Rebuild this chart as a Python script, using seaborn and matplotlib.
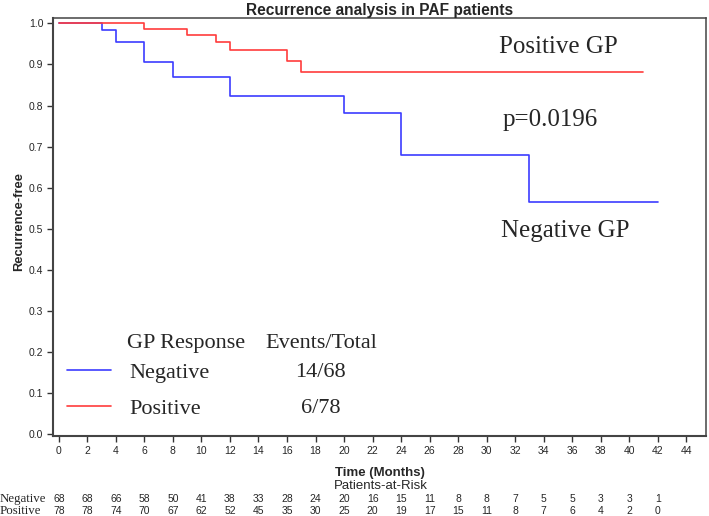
import pandas as pd
import matplotlib.pyplot as plt
import seaborn as sns
from matplotlib.lines import Line2D

# --- data ---
neg_times = [0, 3, 4, 6, 8, 12, 20, 24, 33, 42]
neg_surv = [1.0, 0.985, 0.955, 0.906, 0.869, 0.824, 0.782, 0.679, 0.566, 0.566]
pos_times = [0, 6, 9, 11, 12, 16, 17, 41]
pos_surv = [1.0, 0.986, 0.971, 0.954, 0.935, 0.908, 0.881, 0.881]

groups = ['Negative', 'Positive']
events = ['14/68', '6/78']
risk_times = list(range(0, 43, 2))
risk_neg = [68, 68, 66, 58, 50, 41, 38, 33, 28, 24, 20, 16, 15, 11, 8, 8, 7, 5, 5, 3, 3, 1]
risk_pos = [78, 78, 74, 70, 67, 62, 52, 45, 35, 30, 25, 20, 19, 17, 15, 11, 8, 7, 6, 4, 2, 0]

colors = {'Negative': '#3c3cff', 'Positive': '#ff3c3c'}

df = pd.concat([
    pd.DataFrame({'time': neg_times, 'surv': neg_surv, 'group': 'Negative'}),
    pd.DataFrame({'time': pos_times, 'surv': pos_surv, 'group': 'Positive'}),
])

sns.set_theme(style='white')
plt.rcParams['font.family'] = ['Liberation Sans', 'DejaVu Sans']
serif = ['Liberation Serif', 'DejaVu Serif']

fig = plt.figure(figsize=(7.09, 5.16), dpi=100)
ax = fig.add_axes([0.075, 0.155, 0.921, 0.81])

sns.lineplot(data=df, x='time', y='surv', hue='group', palette=colors,
             drawstyle='steps-post', linewidth=1.2, legend=False, ax=ax)

ax.set_xlim(-0.4, 45.4)
ax.set_ylim(-0.005, 1.013)
ax.set_xticks(range(0, 45, 2))
ax.set_yticks([i / 10 for i in range(11)])
ax.set_yticklabels([f'{i / 10:.1f}' for i in range(11)])
ax.tick_params(axis='both', direction='out', length=4, width=1, labelsize=7.5,
               color='#333333', pad=3, bottom=True, left=True)
for s in ax.spines.values():
    s.set_color('#444444')
    s.set_linewidth(1.1)
ax.spines['left'].set_linewidth(1.5)
ax.spines['bottom'].set_linewidth(1.5)

ax.set_title('Recurrence analysis in PAF patients', fontsize=11.2, fontweight='bold', pad=2)
ax.set_ylabel('Recurrence-free', fontsize=9.3, fontweight='bold', labelpad=3)
ax.yaxis.label.set_y(0.514)
ax.set_xlabel('Time (Months)', fontsize=9.5, fontweight='bold', labelpad=8)

# curve annotations
ax.text(30.9, 0.942, 'Positive GP', family=serif, fontsize=18, va='center')
ax.text(31.1, 0.764, 'p=0.0196', family=serif, fontsize=18, va='center')
ax.text(31.0, 0.494, 'Negative GP', family=serif, fontsize=18, va='center')

# legend
handles = [Line2D([], [], color=colors[g], linewidth=1.2) for g in groups]
ax.legend(handles, groups, loc='center left', bbox_to_anchor=(0.021, 0.108),
          frameon=False, borderpad=0, borderaxespad=0, handlelength=2.0,
          handletextpad=0.8, labelspacing=0.7, prop={'family': serif, 'size': 16})
ax.text(0.113, 0.222, 'GP Response', transform=ax.transAxes, family=serif,
        fontsize=16, va='center')
ax.text(0.325, 0.222, 'Events/Total', transform=ax.transAxes, family=serif,
        fontsize=16, va='center')
for ev, yy in zip(events, [0.153, 0.067]):
    ax.text(0.41, yy, ev, transform=ax.transAxes, family=serif, fontsize=16,
            va='center', ha='center')

# patients-at-risk table
trans = ax.get_xaxis_transform()
ax.text(22.6, -0.12, 'Patients-at-Risk', transform=trans, fontsize=9.5,
        ha='center', va='center')
for row, yy in zip([risk_neg, risk_pos], [-0.151, -0.179]):
    for t, n in zip(risk_times, row):
        ax.text(t, yy, str(n), transform=trans, fontsize=7.5, ha='center',
                va='center', clip_on=False)
fig.text(0.0, 1 - 499 / 516, 'Negative', family=serif, fontsize=9.3, va='center')
fig.text(0.0, 1 - 511 / 516, 'Positive', family=serif, fontsize=9.3, va='center')

fig.savefig('out.png', dpi=100)
